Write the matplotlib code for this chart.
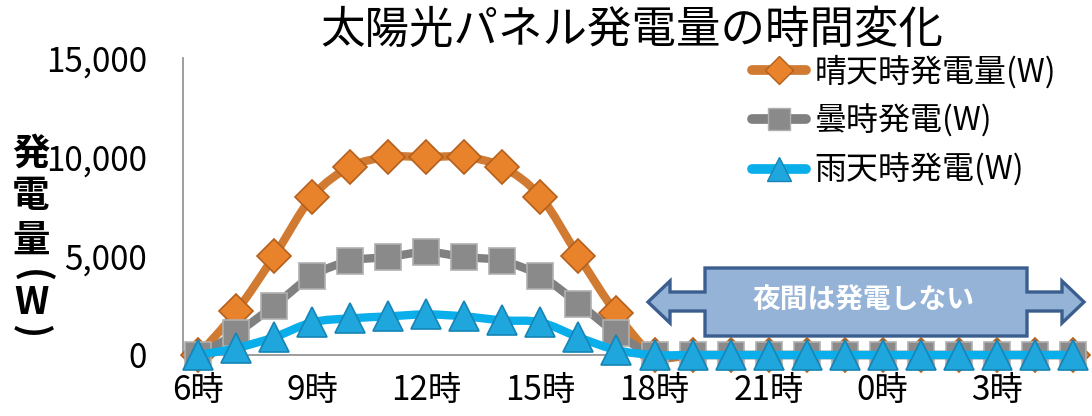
import matplotlib
matplotlib.use('Agg')
import matplotlib.pyplot as plt
from matplotlib.path import Path
from matplotlib.patches import PathPatch, Polygon
from matplotlib.lines import Line2D

plt.rcParams['font.family'] = ['Noto Sans CJK JP', 'DejaVu Sans']

# data: hourly output from 6時 to 5時 of the next day
hours = list(range(6, 24)) + list(range(0, 6))
hour_labels = [f'{h}時' for h in hours]
clear_w = [0, 2200, 5000, 8000, 9500, 10000, 10000, 10000, 9500, 8000, 5000, 2100,
           0, 0, 0, 0, 0, 0, 0, 0, 0, 0, 0, 0]
cloudy_w = [0, 1100, 2500, 4000, 4750, 4950, 5200, 4950, 4750, 4000, 2600, 1100,
            0, 0, 0, 0, 0, 0, 0, 0, 0, 0, 0, 0]
rain_w = [0, 350, 900, 1650, 1850, 1950, 2050, 1950, 1750, 1650, 900, 250,
          0, 0, 0, 0, 0, 0, 0, 0, 0, 0, 0, 0]
series_names = ['晴天時発電量(W)', '曇時発電(W)', '雨天時発電(W)']
y_ticks = [0, 5000, 10000, 15000]

W, H = 1092, 416


def fx(px):
    return px / W


def fy(py):
    return 1 - py / H


def smooth_path(xs, ys):
    # excel-like smoothed line: catmull-rom segments as cubic beziers
    n = len(xs)
    verts = [(xs[0], ys[0])]
    codes = [Path.MOVETO]
    for i in range(n - 1):
        a = max(i - 1, 0)
        d = min(i + 2, n - 1)
        c1 = (xs[i] + (xs[i + 1] - xs[a]) / 6, ys[i] + (ys[i + 1] - ys[a]) / 6)
        c2 = (xs[i + 1] - (xs[d] - xs[i]) / 6, ys[i + 1] - (ys[d] - ys[i]) / 6)
        verts += [c1, c2, (xs[i + 1], ys[i + 1])]
        codes += [Path.CURVE4] * 3
    return Path(verts, codes)


fig = plt.figure(figsize=(W / 100, H / 100), dpi=100)
ax = fig.add_axes([fx(183), fy(355), fx(1088) - fx(183), fy(58) - fy(355)])

x = list(range(len(hours)))
styles = [
    (clear_w, '#D07A32', 'D', 17, '#E8832C', '#B4601C'),
    (cloudy_w, '#808080', 's', 19, '#8A8A8A', '#B0B0B0'),
    (rain_w, '#0AAEEA', '^', 21, '#1EA6DD', '#1784B5'),
]
handles = []
z = 2
for (vals, lc, mk, ms, mfc, mec), name in zip(styles, series_names):
    ax.add_patch(PathPatch(smooth_path(x, vals), fill=False, edgecolor=lc, lw=6,
                           capstyle='round', joinstyle='round', zorder=z, clip_on=False))
    ax.plot(x, vals, linestyle='none', marker=mk, markersize=ms, markerfacecolor=mfc,
            markeredgecolor=mec, markeredgewidth=1.2, zorder=z + 1, clip_on=False)
    handles.append(Line2D([], [], color=lc, lw=7, solid_capstyle='round', marker=mk,
                          markersize=ms * 0.85, markerfacecolor=mfc,
                          markeredgecolor=mec, markeredgewidth=1.0, label=name))
    z += 2

ax.set_xlim(-0.4, 23.4)
ax.set_ylim(0, 15000)
ax.set_xticks(x[::3])
ax.set_xticklabels(hour_labels[::3])
ax.set_yticks(y_ticks)
ax.set_yticklabels([f'{v:,}' for v in y_ticks])
ax.tick_params(axis='both', length=0, labelsize=24, colors='black')
ax.tick_params(axis='y', pad=26)
ax.tick_params(axis='x', pad=13)
for s in ['top', 'right']:
    ax.spines[s].set_visible(False)
for s in ['left', 'bottom']:
    ax.spines[s].set_color('#8C8C8C')
    ax.spines[s].set_linewidth(1.2)

fig.text(fx(632), fy(30), '太陽光パネル発電量の時間変化', fontsize=32,
         ha='center', va='center')

# vertical axis title, one character per line; brackets turned for vertical writing
ylab = [('発', 153, 0), ('電', 196, 0), ('量', 240, 0), ('(', 276, -90),
        ('W', 302, 0), (')', 331, -90)]
for ch, py, rot in ylab:
    fig.text(fx(31), fy(py), ch, fontsize=27, fontweight='bold', rotation=rot,
             ha='center', va='center')

leg = fig.legend(handles=handles, loc='upper left', bbox_to_anchor=(fx(752), fy(55)),
                 frameon=False, fontsize=23, handlelength=1.7, handletextpad=0.25,
                 labelspacing=0.5, borderpad=0, borderaxespad=0)

# night callout: double arrow with a box in the middle
pts = [(648, 302), (670, 281), (670, 292), (705, 292), (705, 268), (1027, 268),
       (1027, 292), (1062, 292), (1062, 281), (1084, 302), (1062, 323), (1062, 311),
       (1027, 311), (1027, 336), (705, 336), (705, 311), (670, 311), (670, 323)]
fig.patches.append(Polygon([(fx(a), fy(b)) for a, b in pts], closed=True,
                           transform=fig.transFigure, facecolor='#95B3D7',
                           edgecolor='#3B5E8E', lw=2.4, zorder=10))
fig.text(fx(864), fy(301), '夜間は発電しない', fontsize=20, fontweight='bold',
         color='white', ha='center', va='center', zorder=11)

fig.savefig('out.png', dpi=100)
